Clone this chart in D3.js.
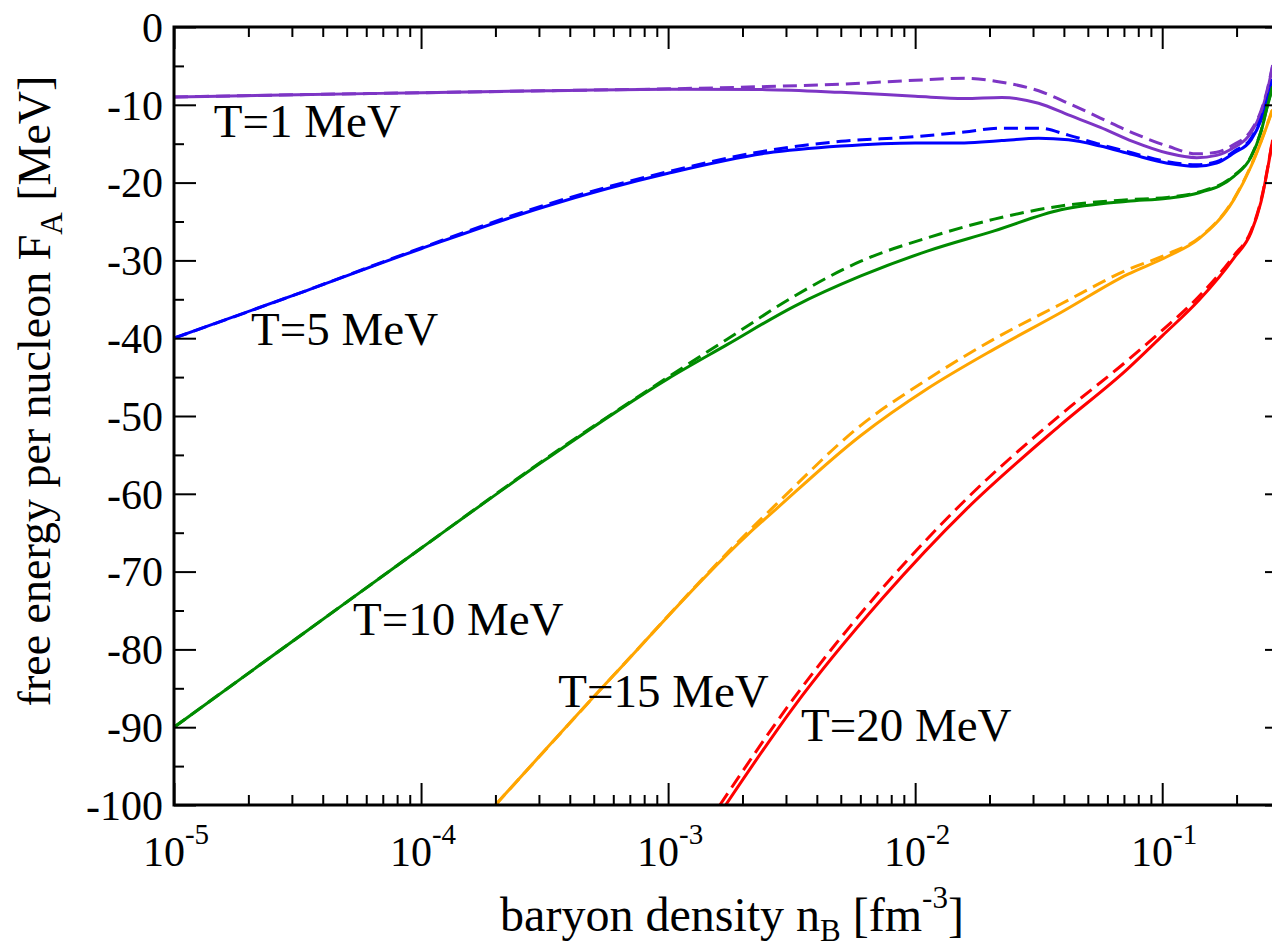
<!DOCTYPE html>
<html>
<head>
<meta charset="utf-8">
<script src="https://cdn.jsdelivr.net/npm/d3@7"></script>
<style>
  html, body { margin: 0; padding: 0; background: #fff; }
  svg { display: block; }
</style>
</head>
<body>
<script>
// Free energy per nucleon vs baryon density, five temperatures,
// two model variants (solid / dashed) per temperature.

// ---- data -------------------------------------------------------------
const temperatures = ["T=1 MeV", "T=5 MeV", "T=10 MeV", "T=15 MeV", "T=20 MeV"];
const colors = ["#7d35c5", "#0000ff", "#008b00", "#ffa500", "#ff0000"];

// density grids [fm^-3]
const densLow = [1e-5, 3.16e-5, 1e-4, 3.16e-4, 1e-3, 2.51e-3, 5.01e-3, 1e-2, 1.58e-2, 2.24e-2,
                 3.16e-2, 4.17e-2, 5.62e-2, 7.59e-2, 0.105, 0.138, 0.166, 0.195, 0.229, 0.251, 0.266, 0.28];
const densT10 = [1e-5, 3.16e-5, 1e-4, 3.16e-4, 1e-3, 1.74e-3, 3.24e-3, 6.03e-3, 1.12e-2, 2.09e-2,
                 3.89e-2, 7.24e-2, 0.105, 0.141, 0.195, 0.229, 0.251, 0.266, 0.28];
const densT15 = [2.0e-4, 6.03e-4, 2.09e-3, 2.75e-3, 6.03e-3, 1.12e-2, 2.09e-2, 3.89e-2, 7.24e-2,
                 0.105, 0.141, 0.195, 0.229, 0.251, 0.28];
const densT20Solid = [1.71e-3, 3.19e-3, 7.34e-3, 1.62e-2, 3.86e-2, 7.21e-2, 0.1, 0.141, 0.195, 0.229, 0.251, 0.28];
const densT20Dashed = [1.62e-3, 3.19e-3, 7.34e-3, 1.62e-2, 3.86e-2, 7.21e-2, 0.1, 0.141, 0.195, 0.229, 0.251, 0.28];

// free energy per nucleon F_A [MeV]
const freeT1Solid  = [-9.0, -8.7, -8.45, -8.2, -8.0, -8.05, -8.4, -8.9, -9.2, -9.05, -9.8, -11.3, -12.9, -14.7, -16.2, -16.8, -16.5, -15.5, -13.6, -11.0, -8.3, -5.0];
const freeT1Dashed = [-9.0, -8.7, -8.45, -8.2, -7.95, -7.65, -7.35, -6.85, -6.6, -7.1, -8.2, -9.8, -11.7, -13.6, -15.3, -16.3, -16.1, -15.1, -13.3, -10.8, -8.1, -4.9];
const freeT5Solid  = [-40.0, -34.3, -28.5, -23.1, -18.8, -16.2, -15.3, -14.9, -14.9, -14.6, -14.3, -14.5, -15.3, -16.4, -17.5, -17.9, -17.5, -16.2, -14.5, -12.0, -9.6, -6.8];
const freeT5Dashed = [-40.0, -34.3, -28.4, -22.9, -18.6, -15.9, -14.7, -14.1, -13.5, -13.0, -13.0, -13.9, -15.1, -16.2, -17.3, -17.7, -17.3, -16.0, -14.3, -11.8, -9.4, -6.7];
const freeT10Solid  = [-90.0, -78.5, -67.0, -55.7, -45.2, -40.8, -35.9, -32.0, -28.8, -26.2, -23.5, -22.4, -22.0, -21.3, -19.2, -16.7, -13.5, -10.3, -7.7];
const freeT10Dashed = [-90.0, -78.5, -67.0, -55.6, -45.0, -40.1, -34.6, -30.1, -27.1, -24.7, -23.0, -22.2, -21.9, -21.2, -19.1, -16.6, -13.4, -10.2, -7.6];
const freeT15Solid  = [-100.0, -83.3, -65.3, -61.9, -52.5, -46.5, -41.4, -36.7, -31.8, -29.5, -27.2, -22.2, -17.9, -14.8, -10.6];
const freeT15Dashed = [-100.0, -83.3, -65.0, -61.3, -51.2, -45.3, -40.1, -35.6, -31.2, -29.2, -27.1, -22.1, -17.8, -14.7, -10.5];
const freeT20Solid  = [-100.0, -87.6, -73.5, -61.9, -51.2, -44.0, -39.7, -35.1, -29.7, -26.4, -22.5, -14.5];
const freeT20Dashed = [-100.0, -86.5, -72.2, -60.6, -49.9, -42.9, -39.0, -34.6, -29.4, -26.2, -22.3, -14.4];

// axis ticks
const xMajorTicks = [1e-5, 1e-4, 1e-3, 1e-2, 1e-1];
const xTickExponents = ["-5", "-4", "-3", "-2", "-1"];
const yMajorTicks = [0, -10, -20, -30, -40, -50, -60, -70, -80, -90, -100];
const yMinorTicks = [-5, -15, -25, -35, -45, -55, -65, -75, -85, -95];

// curve labels: text, density anchor, F anchor (baseline start)
const labelTexts = temperatures;
const labelDens = [1.45e-5, 2.05e-5, 5.3e-5, 3.59e-4, 3.45e-3];
const labelFree = [-14.1, -40.9, -78.2, -87.4, -91.8];

// ---- layout -----------------------------------------------------------
const W = 1272, H = 951;
const FONT = "'Liberation Serif', 'Times New Roman', Times, serif";

const x = d3.scaleLog().domain([1e-5, 0.32]).range([174, 1287]);
const y = d3.scaleLinear().domain([-100, 0]).range([805, 27]);

const xMinorTicks = [];
for (let e = -5; e <= -1; e++) {
  for (let m = 2; m <= 9; m++) {
    const v = m * Math.pow(10, e);
    if (v < 0.32) xMinorTicks.push(v);
  }
}

const svg = d3.select("body").append("svg")
  .attr("width", W).attr("height", H)
  .attr("font-family", FONT);

svg.append("rect").attr("width", W).attr("height", H).attr("fill", "#fff");

svg.append("clipPath").attr("id", "plot-clip")
  .append("rect")
  .attr("x", x.range()[0]).attr("y", y.range()[1])
  .attr("width", x.range()[1] - x.range()[0])
  .attr("height", y.range()[0] - y.range()[1]);

// ---- curves -----------------------------------------------------------
const series = [
  { dens: densLow, solid: freeT1Solid, dashed: freeT1Dashed, densDashed: densLow },
  { dens: densLow, solid: freeT5Solid, dashed: freeT5Dashed, densDashed: densLow },
  { dens: densT10, solid: freeT10Solid, dashed: freeT10Dashed, densDashed: densT10 },
  { dens: densT15, solid: freeT15Solid, dashed: freeT15Dashed, densDashed: densT15 },
  { dens: densT20Solid, solid: freeT20Solid, dashed: freeT20Dashed, densDashed: densT20Dashed }
];

const line = d3.line()
  .x(d => x(d[0]))
  .y(d => y(d[1]))
  .curve(d3.curveMonotoneX);

const curves = svg.append("g").attr("clip-path", "url(#plot-clip)");

series.forEach((s, i) => {
  curves.append("path")
    .datum(s.densDashed.map((n, k) => [n, s.dashed[k]]))
    .attr("d", line)
    .attr("fill", "none")
    .attr("stroke", colors[i])
    .attr("stroke-width", 3)
    .attr("stroke-dasharray", "14,7");
  curves.append("path")
    .datum(s.dens.map((n, k) => [n, s.solid[k]]))
    .attr("d", line)
    .attr("fill", "none")
    .attr("stroke", colors[i])
    .attr("stroke-width", 3);
});

// ---- axes -------------------------------------------------------------
function styleAxis(g) {
  g.select(".domain").remove();
  g.selectAll(".tick line").attr("stroke", "#000").attr("stroke-width", 2);
}

// bottom (ticks pointing inward)
svg.append("g").attr("transform", `translate(0,${y(-100)})`)
  .call(d3.axisBottom(x).tickValues(xMajorTicks).tickSize(-22).tickSizeOuter(0).tickFormat(""))
  .call(styleAxis);
svg.append("g").attr("transform", `translate(0,${y(-100)})`)
  .call(d3.axisBottom(x).tickValues(xMinorTicks).tickSize(-10).tickSizeOuter(0).tickFormat(""))
  .call(styleAxis);
// top
svg.append("g").attr("transform", `translate(0,${y(0)})`)
  .call(d3.axisTop(x).tickValues(xMajorTicks).tickSize(-22).tickSizeOuter(0).tickFormat(""))
  .call(styleAxis);
svg.append("g").attr("transform", `translate(0,${y(0)})`)
  .call(d3.axisTop(x).tickValues(xMinorTicks).tickSize(-10).tickSizeOuter(0).tickFormat(""))
  .call(styleAxis);

// left with labels
const yAxisG = svg.append("g").attr("transform", `translate(${x(1e-5)},0)`)
  .call(d3.axisLeft(y).tickValues(yMajorTicks).tickSize(-22).tickSizeOuter(0)
    .tickPadding(11).tickFormat(d => String(d)))
  .call(styleAxis);
yAxisG.attr("font-family", FONT);
yAxisG.selectAll(".tick text").attr("font-size", 42).attr("fill", "#000").attr("dy", "0.34em");
svg.append("g").attr("transform", `translate(${x(1e-5)},0)`)
  .call(d3.axisLeft(y).tickValues(yMinorTicks).tickSize(-10).tickSizeOuter(0).tickFormat(""))
  .call(styleAxis);
// right
svg.append("g").attr("transform", `translate(${x(0.32)},0)`)
  .call(d3.axisRight(y).tickValues(yMajorTicks).tickSize(-22).tickSizeOuter(0).tickFormat(""))
  .call(styleAxis);
svg.append("g").attr("transform", `translate(${x(0.32)},0)`)
  .call(d3.axisRight(y).tickValues(yMinorTicks).tickSize(-10).tickSizeOuter(0).tickFormat(""))
  .call(styleAxis);

// frame
svg.append("rect")
  .attr("x", x.range()[0]).attr("y", y.range()[1])
  .attr("width", x.range()[1] - x.range()[0])
  .attr("height", y.range()[0] - y.range()[1])
  .attr("fill", "none").attr("stroke", "#000").attr("stroke-width", 3);

// x tick labels 10^k
xMajorTicks.forEach((v, i) => {
  const t = svg.append("text")
    .attr("x", x(v) + 2).attr("y", 866)
    .attr("text-anchor", "middle")
    .attr("font-size", 42).attr("fill", "#000");
  t.append("tspan").text("10");
  t.append("tspan").attr("font-size", 29).attr("dy", -22).text(xTickExponents[i]);
});

// axis titles
const xt = svg.append("text")
  .attr("x", 732).attr("y", 931)
  .attr("text-anchor", "middle")
  .attr("font-size", 48).attr("fill", "#000");
xt.append("tspan").text("baryon density n");
xt.append("tspan").attr("font-size", 31).attr("dy", 10).text("B");
xt.append("tspan").attr("dy", -10).text(" [fm");
xt.append("tspan").attr("font-size", 31).attr("dy", -23).text("-3");
xt.append("tspan").attr("dy", 23).text("]");

const yt = svg.append("text")
  .attr("transform", "translate(50,391) rotate(-90)")
  .attr("text-anchor", "middle")
  .attr("font-size", 46).attr("fill", "#000");
yt.append("tspan").text("free energy per nucleon F");
yt.append("tspan").attr("font-size", 31).attr("dy", 12).text("A");
yt.append("tspan").attr("dy", -12).text(" [MeV]");

// curve labels
labelTexts.forEach((txt, i) => {
  svg.append("text")
    .attr("x", x(labelDens[i])).attr("y", y(labelFree[i]))
    .attr("font-size", 47).attr("fill", "#000")
    .text(txt);
});
</script>
</body>
</html>
